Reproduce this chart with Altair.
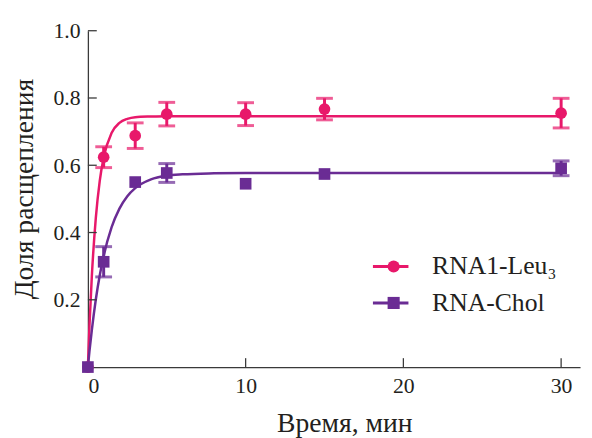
import altair as alt
import pandas as pd

# ---------------- data ----------------
series_names = ["RNA1-Leu₃", "RNA-Chol"]
colors = ["#E8186A", "#6A2C94"]

t_pts = [0, 1, 3, 5, 10, 15, 30]
leu_y = [0.0, 0.624, 0.688, 0.752, 0.752, 0.767, 0.755]
leu_err = [0.0, 0.031, 0.038, 0.035, 0.034, 0.032, 0.044]
chol_y = [0.0, 0.313, 0.550, 0.577, 0.545, 0.574, 0.591]
chol_err = [0.0, 0.045, 0.0, 0.028, 0.0, 0.0, 0.022]

curve_t = [0, 0.1, 0.25, 0.5, 0.75, 1, 1.5, 2, 2.5, 3, 4, 5, 6, 8, 10, 15, 20, 30]
leu_curve = [0, 0.123, 0.270, 0.442, 0.553, 0.623, 0.696, 0.726, 0.738, 0.743,
             0.745, 0.746, 0.746, 0.746, 0.746, 0.746, 0.746, 0.746]
chol_curve = [0, 0.047, 0.110, 0.200, 0.272, 0.330, 0.415, 0.471, 0.508, 0.532,
              0.558, 0.569, 0.573, 0.576, 0.577, 0.577, 0.577, 0.577]

x_ticks = [10, 20, 30]
y_ticks = [0.2, 0.4, 0.6, 0.8, 1.0]

x_title = "Время, мин"
y_title = "Доля расщепления"

# ---------------- tables ----------------
pts = pd.DataFrame({
    "t": t_pts * 2,
    "y": leu_y + chol_y,
    "err": leu_err + chol_err,
    "series": [series_names[0]] * len(t_pts) + [series_names[1]] * len(t_pts),
    "hex": [colors[0]] * len(t_pts) + [colors[1]] * len(t_pts),
})
pts["lo"] = pts["y"] - pts["err"]
pts["hi"] = pts["y"] + pts["err"]
errs = pts[pts["err"] > 0]

curves = pd.DataFrame({
    "t": curve_t * 2,
    "y": leu_curve + chol_curve,
    "series": [series_names[0]] * len(curve_t) + [series_names[1]] * len(curve_t),
})

W, H = 499, 341
FONT = "Liberation Serif"
TXT = "#231F20"
AX = "#3a3a3a"

xs = alt.Scale(domain=[0, 31.2], nice=False, zero=False)
ys = alt.Scale(domain=[0, 1.0], nice=False)

x_axis = alt.Axis(values=[0, 10, 20, 30], format="d", title=x_title, ticks=False, tickSize=0,
                  labelPadding=9, grid=False, titleX=260, titleY=65,
                  titleBaseline="alphabetic", titleAlign="center")
y_axis = alt.Axis(values=y_ticks, format=".1f", title=y_title, ticks=False, tickSize=0,
                  labelPadding=8, grid=False, titleX=-56, titleY=160,
                  titleAlign="center", titleBaseline="alphabetic", titleAngle=-90)

legA = alt.Legend(title=None, orient="none", legendX=294, legendY=226, padding=0,
                  symbolType="M-2,0H2", symbolSize=324, symbolStrokeWidth=3,
                  labelFont=FONT, labelFontSize=26, labelColor=TXT, labelOffset=29,
                  rowPadding=11, labelLimit=400)
legB = alt.Legend(title=None, orient="none", legendX=297, legendY=226, padding=0,
                  symbolSize=150, symbolStrokeWidth=0,
                  labelFont=FONT, labelFontSize=26, labelExpr="' '", labelOffset=30,
                  rowPadding=11, labelLimit=400)

base_curves = alt.Chart(curves).mark_line(strokeWidth=2.5, interpolate="monotone").encode(
    x=alt.X("t:Q", scale=xs, axis=x_axis),
    y=alt.Y("y:Q", scale=ys, axis=y_axis),
    color=alt.Color("series:N", scale=alt.Scale(domain=series_names, range=colors), legend=legA),
    detail="series:N",
)

err_rules = alt.Chart(errs).mark_rule(strokeWidth=3).encode(
    x="t:Q", y="lo:Q", y2="hi:Q",
    color=alt.Color("hex:N", scale=None),
)
caps_lo = alt.Chart(errs).mark_tick(orient="horizontal", size=17, thickness=3).encode(
    x="t:Q", y="lo:Q", color=alt.Color("hex:N", scale=None),
)
caps_hi = alt.Chart(errs).mark_tick(orient="horizontal", size=17, thickness=3).encode(
    x="t:Q", y="hi:Q", color=alt.Color("hex:N", scale=None),
)

points = alt.Chart(pts).mark_point(filled=True, opacity=1, size=140).encode(
    x="t:Q", y="y:Q",
    color=alt.Color("series:N", scale=alt.Scale(domain=series_names, range=colors), legend=legB),
    shape=alt.Shape("series:N", scale=alt.Scale(domain=series_names, range=["circle", "square"]), legend=legB),
)

xt = pd.DataFrame({"v": x_ticks})
yt = pd.DataFrame({"v": y_ticks})
x_tick_marks = alt.Chart(xt).mark_rule(color=AX, strokeWidth=1.3).encode(
    x="v:Q", y=alt.value(H), y2=alt.value(H - 9))
y_tick_marks = alt.Chart(yt).mark_rule(color=AX, strokeWidth=1.3).encode(
    y="v:Q", x=alt.value(0), x2=alt.value(9))

chart = alt.layer(
    base_curves, err_rules, caps_lo, caps_hi, points, x_tick_marks, y_tick_marks
).resolve_scale(color="independent", shape="independent").properties(
    width=W, height=H,
    autosize=alt.AutoSizeParams(type="none"),
    padding={"left": 81, "top": 20, "right": 4, "bottom": 77},
).configure_view(stroke=None).configure_axis(
    labelFont=FONT, labelFontSize=22, labelColor=TXT,
    titleFont=FONT, titleFontSize=28, titleFontWeight="normal", titleColor=TXT,
    domainColor=AX, domainWidth=1.3,
)

chart.save("out.html", embed_options={"renderer": "svg", "actions": False})
